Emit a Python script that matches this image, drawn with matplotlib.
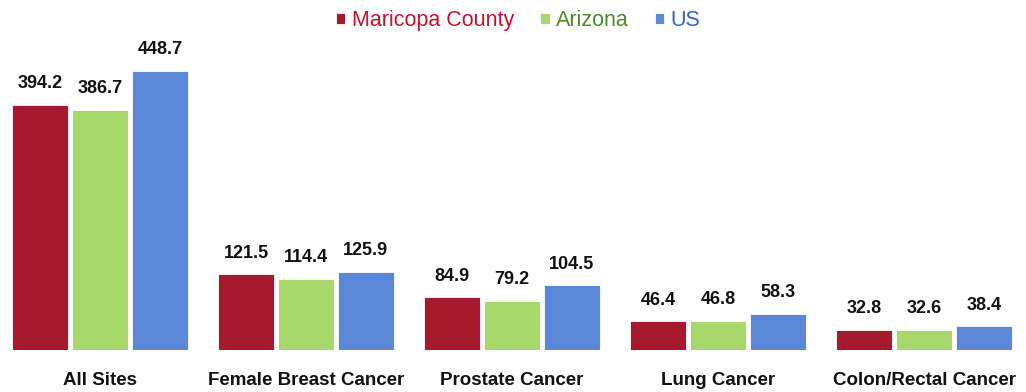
import matplotlib
matplotlib.use('Agg')
import matplotlib.pyplot as plt
import numpy as np

# cancer incidence rates per 100,000
sites = ['All Sites', 'Female Breast Cancer', 'Prostate Cancer', 'Lung Cancer', 'Colon/Rectal Cancer']
maricopa = [394.2, 121.5, 84.9, 46.4, 32.8]
arizona = [386.7, 114.4, 79.2, 46.8, 32.6]
us = [448.7, 125.9, 104.5, 58.3, 38.4]
series_names = ['Maricopa County', 'Arizona', 'US']

bar_colors = ['#A6192E', '#A8D86C', '#5B87D9']
text_colors = ['#C8102E', '#4E8A2A', '#3A5FC8']
fam = ['Liberation Sans', 'DejaVu Sans']

fig = plt.figure(figsize=(10.26, 3.92), dpi=100)
ax = fig.add_axes([0, 42/392, 1, 310/392])

x = np.arange(len(sites))
w = 0.272
step = 0.291
handles = []
for k, vals in enumerate([maricopa, arizona, us]):
    bars = ax.bar(x + (k - 1) * step, vals, width=w, color=bar_colors[k],
                  edgecolor='white', linewidth=0.6, label=series_names[k])
    handles.append(bars)
    for b, v in zip(bars, vals):
        ax.annotate('%.1f' % v, (b.get_x() + b.get_width() / 2, v),
                    xytext=(0, 9), textcoords='offset points',
                    ha='center', va='bottom', fontsize=13, fontweight='bold',
                    family=fam, color='#111111')

ax.set_xlim(-0.485, 4.495)
ax.set_ylim(0, 498.5)
ax.set_xticks(x)
ax.set_xticklabels(sites, fontsize=13.5, fontweight='bold', family=fam, color='#111111')
ax.tick_params(axis='x', length=0, pad=16)
ax.set_yticks([])
for s in ax.spines.values():
    s.set_visible(False)

leg = fig.legend(handles=handles, loc='center', bbox_to_anchor=(0.505, 0.947),
                 ncol=3, frameon=False, handlelength=0.45,
                 handleheight=0.45, handletextpad=0.3, columnspacing=1.2,
                 labelcolor=text_colors, prop={'family': 'Liberation Sans', 'size': 15.5})

fig.savefig('out.png', dpi=100)
